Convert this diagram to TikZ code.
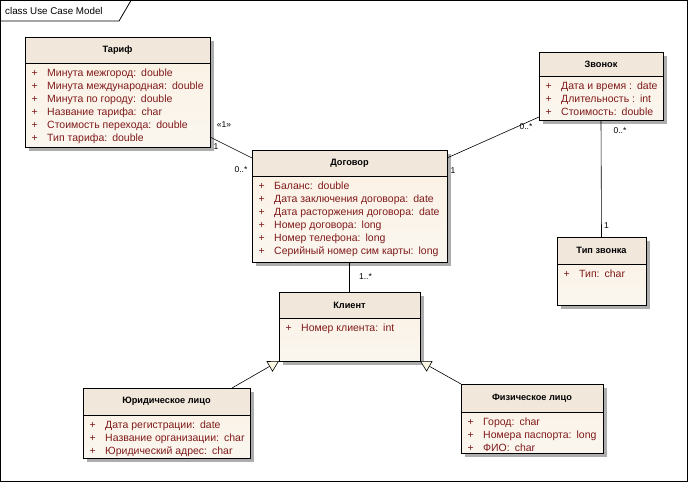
\documentclass[tikz,border=0pt]{standalone}
\usepackage{fontspec}
\setmainfont{Liberation Sans}
\usetikzlibrary{arrows.meta, shadows, calc, positioning}
\definecolor{attrred}{RGB}{128,26,26}
\definecolor{hdrfill}{RGB}{241,232,219}
\definecolor{bodytop}{RGB}{252,241,227}
\definecolor{bodybot}{RGB}{250,246,239}
\definecolor{genfill}{RGB}{250,248,226}
\tikzset{
    clsbox/.style={draw, line width=0.8pt, anchor=north west, inner sep=0pt, outer sep=0pt, top color=bodytop, bottom color=bodybot, drop shadow={shadow xshift=3.5pt, shadow yshift=-3.5pt, fill=black!32, opacity=1}}, % box of a class
    clstitle/.style={font=\bfseries\fontsize{9.2}{11}\selectfont, inner sep=0pt},
    clsattr/.style={anchor=north west, inner sep=0pt, align=left, text=attrred, font=\fontsize{10.5}{13}\selectfont},
    lbl/.style={font=\fontsize{8.5}{10}\selectfont, inner sep=0pt}, % multiplicity
    assoc/.style={line width=0.6pt},
    gener/.style={line width=0.6pt, -{Triangle[length=11pt, width=12pt, fill=genfill, line width=0.6pt]}}
}
\newcommand\attr[2]{\makebox[15.5pt][l]{+}#1\hspace{5pt}#2}
% name, x, y, width, height, header height, title, attributes
\newcommand\umlclass[8]{%
    \node[clsbox, minimum width=#4pt, minimum height=#5pt] (#1) at (#2,#3) {};
    \fill[hdrfill] (#1.north west) rectangle ([yshift=-#6pt]#1.north east);
    \draw[line width=0.8pt] ([yshift=-#6pt]#1.north west) -- ([yshift=-#6pt]#1.north east);
    \draw[line width=0.8pt] (#1.north west) rectangle (#1.south east);
    \node[clstitle] (#1-name) at ([yshift=-#6pt/2]#1.north) {#7};
    \node[clsattr] (#1-attr) at ([shift={(6.5pt,-#6pt-6pt)}]#1.north west) {#8};
}

\begin{document}
\begin{tikzpicture}[x=1pt, y=-1pt]
\useasboundingbox (0,0) rectangle (689,483);

% frame
\draw[line width=0.8pt] (0.5,0.5) rectangle (687.5,481.5);
\draw[line width=0.8pt] (0.5,21) -- (119,21) -- (131,0.5);
\node[anchor=west, inner sep=0pt, font=\fontsize{9.8}{12}\selectfont] (frame-name) at (5,10.5) {class Use Case Model};

% classes
\umlclass{tarif}{25}{37}{185}{110}{26}{Тариф}{%
    \attr{Минута межгород:}{double}\\
    \attr{Минута международная:}{double}\\
    \attr{Минута по городу:}{double}\\
    \attr{Название тарифа:}{char}\\
    \attr{Стоимость перехода:}{double}\\
    \attr{Тип тарифа:}{double}}
\umlclass{dog}{252}{150}{195}{112}{26}{Договор}{%
    \attr{Баланс:}{double}\\
    \attr{Дата заключения договора:}{date}\\
    \attr{Дата расторжения договора:}{date}\\
    \attr{Номер договора:}{long}\\
    \attr{Номер телефона:}{long}\\
    \attr{Серийный номер сим карты:}{long}}
\umlclass{zv}{539}{52}{124}{68}{24}{Звонок}{%
    \attr{Дата и время :}{date}\\
    \attr{Длительность :}{int}\\
    \attr{Стоимость:}{double}}
\umlclass{tip}{557}{237}{89}{68}{27}{Тип звонка}{%
    \attr{Тип:}{char}}
\umlclass{kl}{279}{292}{141}{69}{26}{Клиент}{%
    \attr{Номер клиента:}{int}}
\umlclass{yur}{83}{388}{167}{70}{27}{Юридическое лицо}{%
    \attr{Дата регистрации:}{date}\\
    \attr{Название организации:}{char}\\
    \attr{Юридический адрес:}{char}}
\umlclass{fiz}{461}{384}{142}{69}{28}{Физическое лицо}{%
    \attr{Город:}{char}\\
    \attr{Номера паспорта:}{long}\\
    \attr{ФИО:}{char}}

% associations
\draw[assoc] ([yshift=10pt]tarif.south east) --
    node[lbl, at start, xshift=14pt, yshift=12pt] (m-t1) {«1»}
    node[lbl, at start, xshift=6pt, yshift=-10pt] (m-t2) {1}
    node[lbl, at end, xshift=-11pt, yshift=-12pt] (m-t3) {0..*}
    ([yshift=-8pt]dog.north west);
\draw[assoc] ([yshift=-8pt]dog.north east) --
    node[lbl, at start, xshift=6pt, yshift=-13pt] (m-d1) {1}
    node[lbl, at end, xshift=-13pt, yshift=-10pt] (m-d2) {0..*}
    ([yshift=3pt]zv.south west);
\draw[assoc] (zv.south) --
    node[lbl, at start, xshift=19pt, yshift=-11pt] (m-z1) {0..*}
    node[lbl, at end, xshift=5pt, yshift=11pt] (m-z2) {1}
    (tip.north);
\draw[assoc] (dog.south) --
    node[lbl, at end, xshift=16pt, yshift=15pt] (m-k1) {1..*}
    (kl.north);

% generalizations
\draw[gener] ([xshift=-18pt]yur.north east) -- (kl.south west);
\draw[gener] (fiz.north west) -- (kl.south east);
\end{tikzpicture}
\end{document}
